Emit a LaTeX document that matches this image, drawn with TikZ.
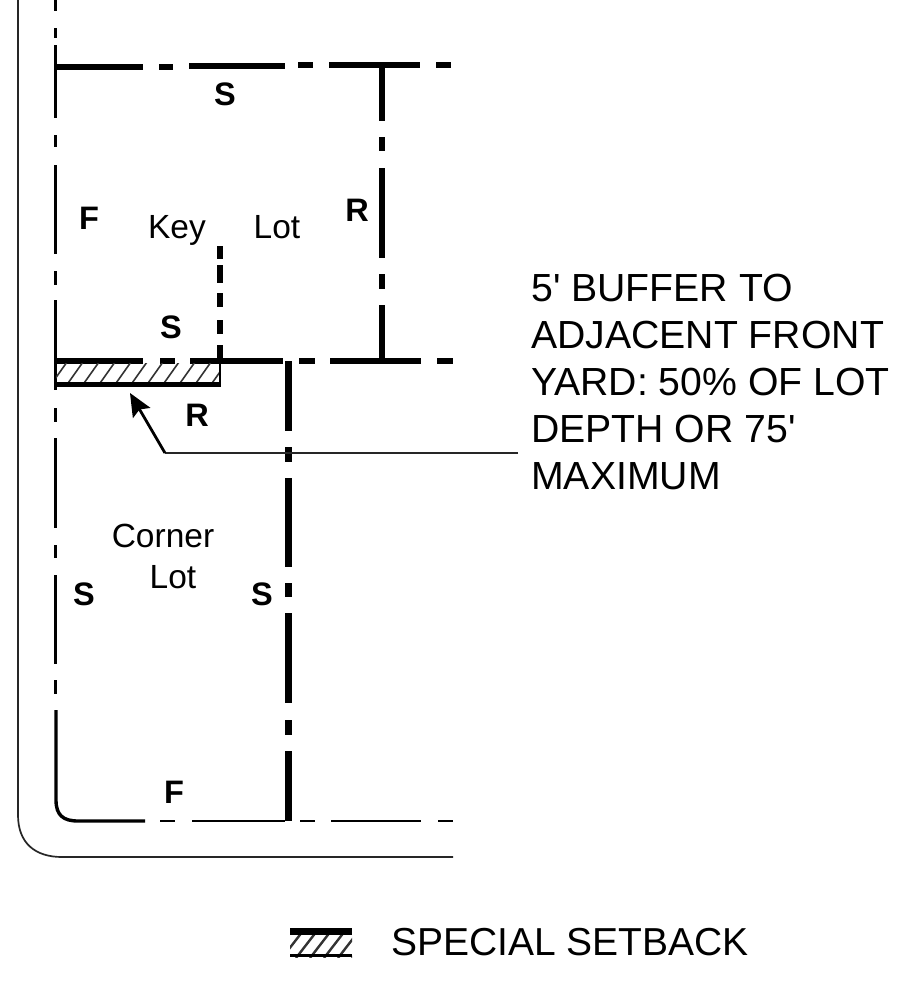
\documentclass[tikz,border=0pt]{standalone}
\usepackage{fontspec}
\setmainfont{Liberation Sans}[Ligatures=TeXOff]
\usetikzlibrary{arrows.meta}
\tikzset{
  x=1pt,y=-1pt,
  curb/.style={line width=1.7pt,black!85},
  thinlot/.style={line width=3.4pt},
  midlot/.style={line width=6pt},
  heavylot/.style={line width=7pt},
  lowlot/.style={line width=2.4pt},
  hatchline/.style={line width=1.6pt,black!80},
  leader/.style={line width=2.4pt,black!85},
  leaderhead/.style={line width=2.8pt,-{Stealth[length=23pt,width=20pt,inset=4pt]}},
  code/.style={font=\fontsize{32.5}{32.5}\selectfont\bfseries,inner sep=0pt},
  lotname/.style={font=\fontsize{33.5}{33.5}\selectfont,inner sep=0pt,anchor=base},
  note/.style={font=\fontsize{39.2}{47}\selectfont,inner sep=0pt,anchor=north west,align=left}
}
\begin{document}
\begin{tikzpicture}
\useasboundingbox[fill=white] (0,0) rectangle (900,993);
% curb
\draw[curb] (18,0) -- (18,815) .. controls (18,843) and (35,857) .. (62,857) -- (453,857);
% left line
\foreach \a/\b in {0/11,28/38,45/118,135/147,165/254,271/285,300/390,408/422,438/528,545/558,575/664,680/694}
  \draw[thinlot] (55.5,\a) -- (55.5,\b);
\draw[thinlot] (56,710) -- (56,800) .. controls (56,815) and (63,821) .. (78,821) -- (145,821);
% bottom line
\foreach \a/\b in {160/175,192/285,300/315,331/421,438/453}
  \draw[lowlot] (\a,821) -- (\b,821);
% top line
\foreach \a/\b/\y in {55/143/66.5,159/173/66.5,189/285/66,298/313/65,329/420/65,436/451/65}
  \draw[midlot] (\a,\y) -- (\b,\y);
% rear line of key lot
\foreach \a/\b in {65/121,137/151,168/258,274/289,305/360}
  \draw[midlot] (381.5,\a) -- (381.5,\b);
% middle line
\foreach \a/\b in {56/143,160/175,190/283,299/315,330/421,437/453}
  \draw[midlot] (\a,360.5) -- (\b,360.5);
% key lot divider
\foreach \a/\b in {246/259,265/283,293/307,320/334,345/363}
  \draw[midlot] (219.5,\a) -- (219.5,\b);
% corner lot side
\foreach \a/\b in {361/431,447/462,478/567,583/597,613/703,720/735,751/821}
  \draw[heavylot] (288,\a) -- (288,\b);
% hatched strip
\begin{scope}
\clip (56,363) rectangle (220,385);
\foreach \i in {0,...,10}
  \draw[hatchline] ({50+16*\i},386) -- ({50+16*\i+17},362);
\end{scope}
\draw[line width=4.4pt] (55,384.5) -- (220.5,384.5);
\draw[line width=2.4pt] (220,360) -- (220,386);
% legend swatch
\begin{scope}
\clip (290,928) rectangle (352,957);
\foreach \i in {0,...,5}
  \draw[line width=2.4pt,black!80] ({282+14*\i},958) -- ({282+14*\i+24},927);
\end{scope}
\fill (290,928) rectangle (352,935);
\fill (290,953.5) rectangle (352,957);
% labels
\node[code] (s1) at (225,94) {S};
\node[code] (f1) at (89,218) {F};
\node[lotname] (key) at (177,238) {Key};
\node[lotname] (lot1) at (277,238) {Lot};
\node[code] (r1) at (357,210) {R};
\node[code] (s2) at (171,327) {S};
\node[code] (r2) at (197,415) {R};
\node[lotname] (corner) at (163,547) {Corner};
\node[lotname] (lot2) at (173,588) {Lot};
\node[code] (s3) at (84,594) {S};
\node[code] (s4) at (262,594) {S};
\node[code] (f2) at (174,792) {F};
\node[note] (buffer) at (531,274) {5' BUFFER TO\\ADJACENT FRONT\\YARD: 50\% OF LOT\\DEPTH OR 75'\\MAXIMUM};
\node[note,anchor=west,font=\fontsize{39}{47}\selectfont] (legend) at (391,942) {SPECIAL SETBACK};
% leader
\coordinate (leadend) at (518,453);
\coordinate (bend) at (165,453);
\coordinate (tip) at (130,393);
\draw[leader] (leadend) -- (bend);
\draw[leaderhead] (bend) -- (tip);
\end{tikzpicture}
\end{document}
